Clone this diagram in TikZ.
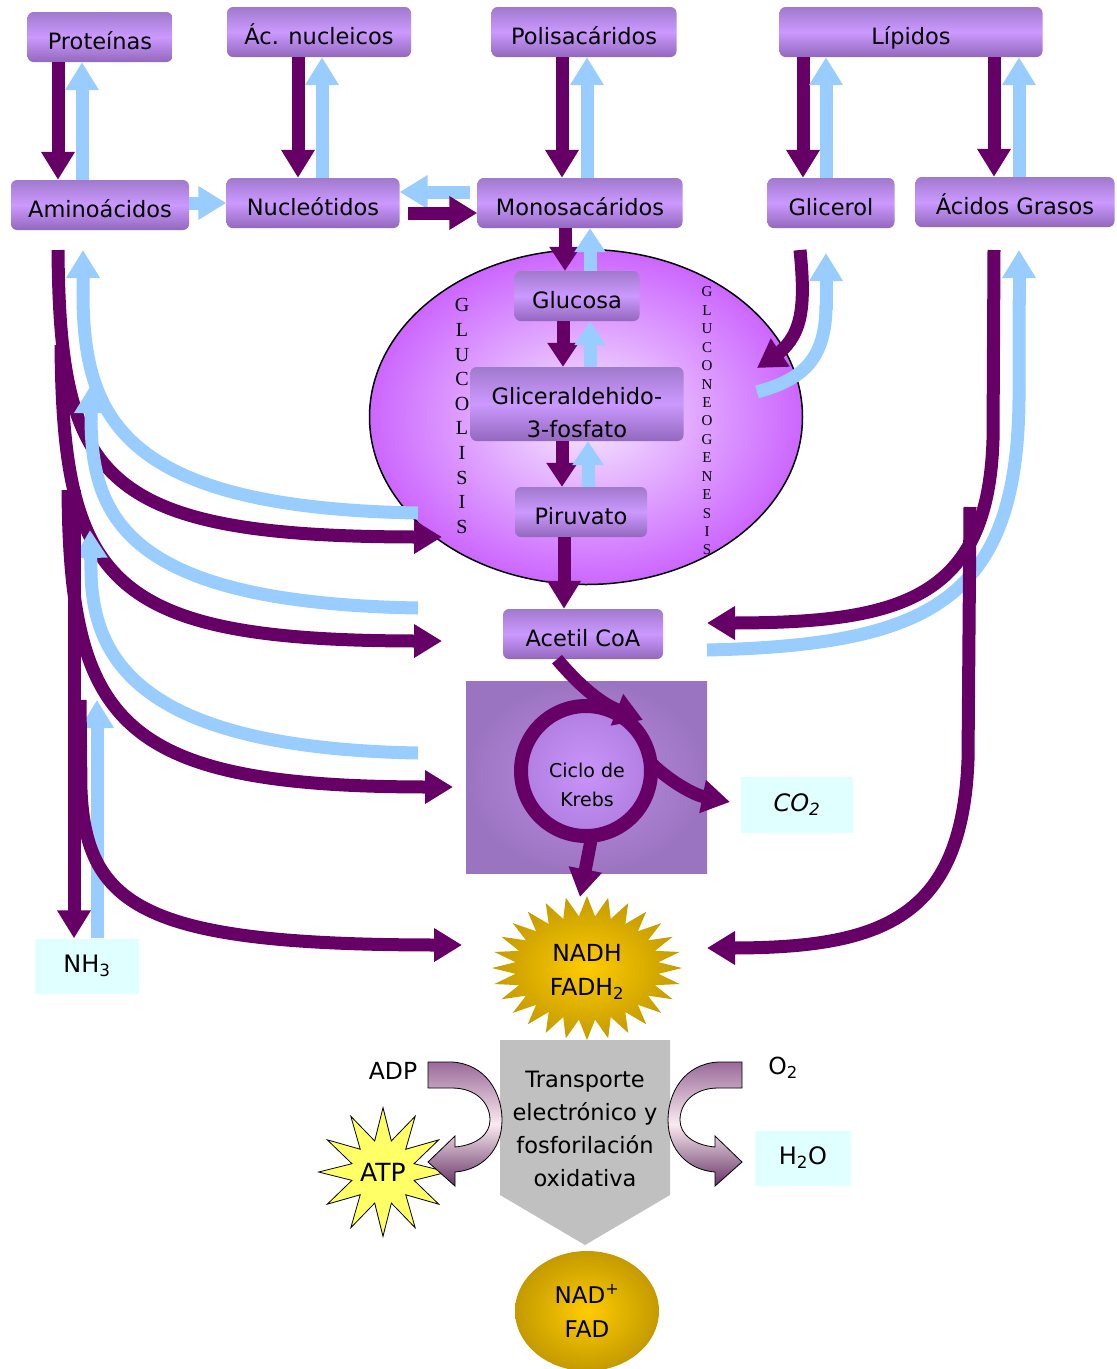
\documentclass[tikz,border=0pt]{standalone}
\usepackage{fontspec}
\setmainfont{DejaVu Sans}
\newfontfamily\serifv{Liberation Serif}
\usetikzlibrary{arrows.meta,shapes.geometric,calc}
\definecolor{pdark}{HTML}{660066}
\definecolor{lblue}{HTML}{99CCFF}
\definecolor{boxtop}{HTML}{A07ACD}
\definecolor{boxmid}{HTML}{CC99FF}
\definecolor{boxbot}{HTML}{9268BD}
\definecolor{ellin}{HTML}{F6EAFF}
\definecolor{ellout}{HTML}{CC66FF}
\definecolor{kin}{HTML}{BC8FE6}
\definecolor{kout}{HTML}{9B74C1}
\definecolor{kcin}{HTML}{C994F8}
\definecolor{kcout}{HTML}{B07EE0}
\definecolor{cyanbg}{HTML}{E0FFFF}
\definecolor{gold1}{HTML}{FFCC00}
\definecolor{gold2}{HTML}{C49A00}
\definecolor{graybg}{HTML}{C0C0C0}
\definecolor{atpy}{HTML}{FFFF66}
\definecolor{adptop}{HTML}{9A6A9A}
\definecolor{adpbot}{HTML}{663366}
\begin{document}
\begin{tikzpicture}[x=1pt,y=-1pt,
  lbl/.style={font=\fontsize{22.5}{26}\selectfont},
  box/.style={rounded corners=6pt, inner sep=0pt, minimum height=50pt,
    top color=boxtop, bottom color=boxbot, middle color=boxmid, lbl,
    text height=24pt, text depth=0pt},
  cyanbox/.style={fill=cyanbg, inner sep=0pt, font=\fontsize{24}{28}\selectfont},
  pa/.style={draw=pdark, line width=13pt, -{Triangle[width=32pt,length=28pt]}},
  ba/.style={draw=lblue, line width=13pt, -{Triangle[width=32pt,length=28pt]}},
  spa/.style={draw=pdark, line width=13pt, -{Triangle[width=30pt,length=24pt]}},
  sba/.style={draw=lblue, line width=13pt, -{Triangle[width=30pt,length=24pt]}},
  pl/.style={draw=pdark, line width=13pt},
  bl/.style={draw=lblue, line width=13pt},
  tarrow/.style={top color=adptop, bottom color=adpbot, middle color=white!92!purple, draw=black, line width=0.8pt}
]
\useasboundingbox (0,0) rectangle (1117,1369);

% ---- top two rows ----
\node[box, minimum width=145pt] (prot) at (100,37) {Proteínas};
\node[box, minimum width=184pt] (acn) at (319,32) {Ác. nucleicos};
\node[box, minimum width=185pt] (poli) at (584,32) {Polisacáridos};
\node[box, minimum width=263pt] (lip) at (911,32) {Lípidos};
\node[box, minimum width=178pt] (amino) at (100,205) {Aminoácidos};
\node[box, minimum width=173pt] (nucl) at (313,203) {Nucleótidos};
\node[box, minimum width=205pt] (mono) at (580,203) {Monosacáridos};
\node[box, minimum width=127pt] (glic) at (831,203) {Glicerol};
\node[box, minimum width=199pt] (acgr) at (1015,202) {Ácidos Grasos};

% ---- cell ellipse ----
\node[ellipse, draw, line width=1.5pt, minimum width=433pt, minimum height=335pt, inner sep=0pt,
  inner color=ellin, outer color=ellout] (cell) at (586,417) {};
\node[font=\serifv\fontsize{20}{24.6}\selectfont, align=center, inner sep=0pt] (glyc) at (462,416)
  {G\\L\\U\\C\\O\\L\\I\\S\\I\\S};
\node[font=\serifv\fontsize{15}{18.43}\selectfont, align=center, inner sep=0pt] (gneo) at (707,421)
  {G\\L\\U\\C\\O\\N\\E\\O\\G\\E\\N\\E\\S\\I\\S};
\node[box, minimum width=125pt] (gluc) at (577,296) {Glucosa};
\node[box, minimum width=213pt, minimum height=74pt, text height=0pt] (g3p) at (577,404) {};
\node[align=center, font=\fontsize{22.5}{33}\selectfont] (g3ptxt) at (577,413) {Gliceraldehido-\\3-fosfato};
\node[box, minimum width=132pt] (piru) at (581,512) {Piruvato};
\node[box, minimum width=160pt] (acet) at (583,634) {Acetil CoA};

% ---- Krebs ----
\node[minimum width=241pt, minimum height=192pt, inner sep=0pt, inner color=kin, outer color=kout] (kbox) at (586.5,777) {};
\node[circle, draw=pdark, line width=14pt, minimum size=130pt, inner sep=0pt, inner color=kcin, outer color=kcout] (kc) at (586,771) {};
\node[font=\fontsize{19}{29}\selectfont, align=center] (ktxt) at (587,785) {Ciclo de\\Krebs};
\node[cyanbox, minimum width=112pt, minimum height=56pt] (co2) at (797,805) {\itshape CO\textsubscript{2}};

% ---- transport ----
\fill[graybg] (500,1040) -- (670,1040) -- (670,1195) -- (585,1245) -- (500,1195) -- cycle;
\node[font=\fontsize{22.5}{33}\selectfont, align=center] (etc) at (585,1129) {Transporte\\electrónico y\\fosforilación\\oxidativa};

% ---- NADH star ----
\shade[inner color=gold1, outer color=gold2] plot[samples at={0,...,55}]
  ({587+(83.5+11.5*cos(180*\x))*cos(\x*6.4286)}, {968+(62+10*cos(180*\x))*sin(\x*6.4286)}) -- cycle;
\node[font=\fontsize{23.5}{34}\selectfont, align=center] (nadh) at (587,972) {NADH\\FADH\textsubscript{2}};

\node[cyanbox, minimum width=104pt, minimum height=55pt] (nh3) at (87,966) {NH\textsubscript{3}};
\node[font=\fontsize{23.5}{27}\selectfont] (adp) at (393,1071) {ADP};
\node[font=\fontsize{23.5}{27}\selectfont] (o2) at (783,1068) {O\textsubscript{2}};
\node[cyanbox, minimum width=96pt, minimum height=55pt] (h2o) at (803,1158) {H\textsubscript{2}O};
\node[star, star points=12, star point ratio=2.0, minimum size=122pt, inner sep=0pt, draw, line width=0.8pt, fill=atpy, font=\fontsize{25}{28}\selectfont] (atp) at (383,1172) {ATP};
\node[ellipse, minimum width=144pt, minimum height=120pt, inner sep=0pt, inner color=gold1, outer color=gold2, align=center, font=\fontsize{23}{34}\selectfont] (nad) at (587,1311) {NAD\textsuperscript{+}\\FAD};

% curved transport arrows
\shade[tarrow] (428,1062) -- (452,1062) .. controls (486,1064) and (502,1093) .. (502,1120) .. controls (502,1150) and (482,1170) .. (455,1172) -- (455,1186) -- (428,1162) -- (455,1136) -- (455,1147) .. controls (477,1145) and (490,1134) .. (490,1120) .. controls (490,1103) and (476,1088) .. (452,1088) -- (428,1088) -- cycle;
\shade[tarrow] (742,1062) -- (718,1062) .. controls (684,1064) and (668,1093) .. (668,1120) .. controls (668,1150) and (688,1170) .. (715,1172) -- (715,1186) -- (742,1162) -- (715,1136) -- (715,1147) .. controls (693,1145) and (680,1134) .. (680,1120) .. controls (680,1103) and (694,1088) .. (718,1088) -- (742,1088) -- cycle;

% ---- vertical arrows top ----
\draw[pa] (prot.south -| 58,0) -- (amino.north -| 58,0);
\draw[ba] (amino.north -| 82,0) -- (prot.south -| 82,0);
\draw[pa] (acn.south -| 298,0) -- (nucl.north -| 298,0);
\draw[ba] (nucl.north -| 322,0) -- (acn.south -| 322,0);
\draw[pa] (poli.south -| 562,0) -- (mono.north -| 562,0);
\draw[ba] (mono.north -| 587,0) -- (poli.south -| 587,0);
\draw[pa] (lip.south -| 803,0) -- (glic.north -| 803,0);
\draw[ba] (glic.north -| 826,0) -- (lip.south -| 826,0);
\draw[pa] (lip.south -| 994,0) -- (acgr.north -| 994,0);
\draw[ba] (acgr.north -| 1019,0) -- (lip.south -| 1019,0);

% horizontal
\draw[ba] (amino.east |- 0,203) -- (nucl.west |- 0,203);
\draw[ba] ($(mono.west |- 0,192)+(-7,0)$) -- (nucl.east |- 0,192);
\draw[pa] ($(nucl.east |- 0,213)+(8,0)$) -- (mono.west |- 0,213);

% inside ellipse
\draw[spa] (mono.south -| 565,0) -- (gluc.north -| 565,0);
\draw[sba] (gluc.north -| 590,0) -- (mono.south -| 590,0);
\draw[spa] (gluc.south -| 563,0) -- (g3p.north -| 563,0);
\draw[sba] (g3p.north -| 590,0) -- (gluc.south -| 590,0);
\draw[spa] (g3p.south -| 562,0) -- (piru.north -| 562,0);
\draw[sba] (piru.north -| 588,0) -- (g3p.south -| 588,0);
\draw[pa] (piru.south -| 564,0) -- (acet.north -| 564,0);

% ---- left side curves ----
\draw[ba] (418,513) .. controls (125,508) and (85,420) .. (83,300) -- (83,250);
\draw[pa] (58,250) .. controls (60,480) and (100,537) .. (420,537) -- (442,537);
\draw[ba] (418,608) .. controls (130,603) and (92,520) .. (91,420) -- (91,385);
\draw[pa] (61,345) .. controls (63,585) and (110,641) .. (420,641) -- (442,641);
\draw[ba] (418,753) .. controls (140,748) and (92,660) .. (91,570) -- (90,530);
\draw[pa] (68,490) .. controls (70,725) and (120,787) .. (430,787) -- (453,787);
\draw[pa] (74,490) -- (nh3.north -| 74,0);
\draw[ba] (nh3.north -| 97,0) -- (97,700);
\draw[pa] (80,700) -- (81,790) .. controls (86,910) and (150,945) .. (440,945) -- (462,945);

% ---- right side curves ----
\draw[bl] (757,392) .. controls (800,380) and (826,362) .. (826,305);
\draw[ba] (826,310) -- (826,253);
\draw[pa] (800,250) .. controls (806,310) and (802,338) .. (772,358) -- (757,368);
\draw[bl] (707,650) .. controls (930,645) and (1017,600) .. (1019,400) -- (1019,300);
\draw[ba] (1019,305) -- (1019,250);
\draw[pa] (994,250) -- (993,440) .. controls (988,600) and (900,623) .. (730,623) -- (707,623);
\draw[pa] (970,507) -- (968,760) .. controls (962,920) and (880,948) .. (730,948) -- (707,948);

% ---- Krebs arrows ----
\draw[pa] (acet.south -| 557,0) .. controls (585,692) and (605,705) .. (643,720);
\draw[pa] (652,764) .. controls (672,783) and (695,795) .. (730,802);
\draw[pa] (592,835) -- (580,897);
\end{tikzpicture}
\end{document}
